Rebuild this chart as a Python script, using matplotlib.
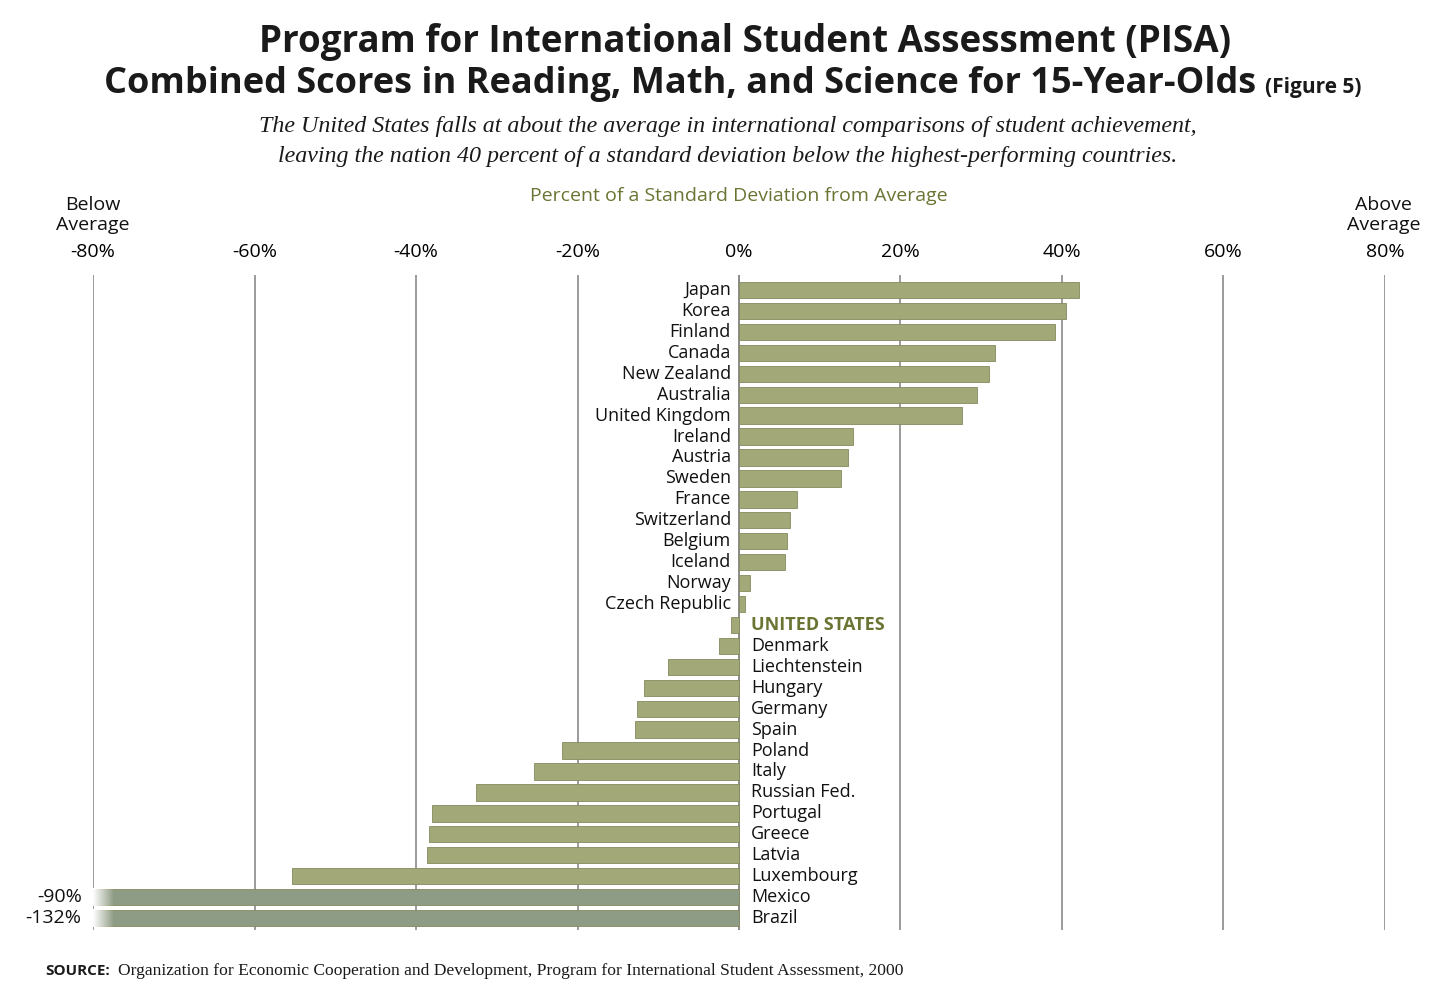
import matplotlib
matplotlib.use("Agg")
import matplotlib.pyplot as plt
import numpy as np

countries = ["Japan", "Korea", "Finland", "Canada", "New Zealand", "Australia",
             "United Kingdom", "Ireland", "Austria", "Sweden", "France",
             "Switzerland", "Belgium", "Iceland", "Norway", "Czech Republic",
             "UNITED STATES", "Denmark", "Liechtenstein", "Hungary", "Germany",
             "Spain", "Poland", "Italy", "Russian Fed.", "Portugal", "Greece",
             "Latvia", "Luxembourg", "Mexico", "Brazil"]
values = [42.1, 40.5, 39.1, 31.7, 31.0, 29.5, 27.6, 14.1, 13.5, 12.6, 7.2,
          6.3, 5.9, 5.7, 1.4, 0.7, -1.0, -2.5, -8.8, -11.8, -12.6, -12.9,
          -21.9, -25.4, -32.6, -38.0, -38.4, -38.6, -55.4, -90, -132]
ticks = [-80, -60, -40, -20, 0, 20, 40, 60, 80]
tick_labels = ["-80%", "-60%", "-40%", "-20%", "0%", "20%", "40%", "60%", "80%"]

bar_col = "#a3a878"
edge_col = "#858a5c"
off_col = "#8f9c85"
olive = "#6b7433"
xmin, xmax = -80, 80

fig = plt.figure(figsize=(14.56, 10.02), dpi=100)
ax = fig.add_axes([0.0639, 0.0719, 0.8873, 0.6537])

y = np.arange(len(countries))
vals = np.array(values, dtype=float)
drawn = np.maximum(vals, xmin)
cols = [off_col if v < xmin else bar_col for v in vals]
ax.barh(y, drawn, height=0.78, color=cols, edgecolor=edge_col, linewidth=0.6, zorder=3)

# fade the truncated bars into the left edge
fade = np.ones((1, 60, 4))
fade[0, :, 3] = np.linspace(1, 0, 60)
for i, v in enumerate(vals):
    if v < xmin:
        ax.imshow(fade, extent=(xmin, xmin + 2.6, i + 0.42, i - 0.42),
                  aspect="auto", zorder=4, interpolation="bilinear")
        ax.text(xmin - 1.4, i, f"{v:.0f}%", ha="right", va="center",
                fontsize=14, fontfamily="Open Sans", color="#111111")

for i, (name, v) in enumerate(zip(countries, vals)):
    if v >= 0:
        ax.text(-1.0, i, name, ha="right", va="center", fontsize=13,
                fontfamily="Open Sans", color="#111111", zorder=5)
    else:
        us = name == "UNITED STATES"
        ax.text(1.5, i, name, ha="left", va="center", fontsize=13,
                fontfamily="Open Sans", fontweight="bold" if us else "normal",
                color=olive if us else "#111111", zorder=5)

ax.set_xlim(xmin, xmax)
ax.set_ylim(len(countries) - 1 + 0.57, -0.72)
ax.set_xticks(ticks)
ax.set_xticklabels(tick_labels, fontsize=14, fontfamily="Open Sans")
ax.xaxis.tick_top()
ax.tick_params(axis="x", length=0, pad=10)
ax.set_yticks([])
ax.grid(axis="x", color="#8a8a8a", linewidth=1.2, zorder=0)
for s in ax.spines.values():
    s.set_visible(False)
ax.axvline(0, color="#8a8a8a", linewidth=1.2, zorder=2)

# titles
fig.text(0.512, 0.958, "Program for International Student Assessment (PISA)",
         ha="center", va="center", fontsize=26.5, fontweight="bold",
         fontfamily="Open Sans", color="#1a1a1a")
fig.text(0.467, 0.916, "Combined Scores in Reading, Math, and Science for 15-Year-Olds",
         ha="center", va="center", fontsize=26, fontweight="bold",
         fontfamily="Open Sans", color="#1a1a1a")
fig.text(0.869, 0.913, "(Figure 5)", ha="left", va="center", fontsize=15,
         fontweight="bold", fontfamily="Open Sans", color="#1a1a1a")
fig.text(0.5, 0.874, "The United States falls at about the average in international comparisons of student achievement,",
         ha="center", va="center", fontsize=17.3, style="italic",
         fontfamily="Liberation Serif", color="#1a1a1a")
fig.text(0.5, 0.844, "leaving the nation 40 percent of a standard deviation below the highest-performing countries.",
         ha="center", va="center", fontsize=17.3, style="italic",
         fontfamily="Liberation Serif", color="#1a1a1a")
fig.text(0.5075, 0.804, "Percent of a Standard Deviation from Average", ha="center",
         va="center", fontsize=14, fontfamily="Open Sans", color=olive)
fig.text(0.0639, 0.785, "Below\nAverage", ha="center", va="center", fontsize=14,
         fontfamily="Open Sans", linespacing=1.15, color="#111111")
fig.text(0.9505, 0.785, "Above\nAverage", ha="center", va="center", fontsize=14,
         fontfamily="Open Sans", linespacing=1.15, color="#111111")

fig.text(0.031, 0.031, "SOURCE:", ha="left", va="center", fontsize=11,
         fontweight="bold", fontfamily="Open Sans", color="#1a1a1a")
fig.text(0.081, 0.031, "Organization for Economic Cooperation and Development, Program for International Student Assessment, 2000",
         ha="left", va="center", fontsize=12.6, fontfamily="Liberation Serif", color="#1a1a1a")

fig.savefig("out.png", dpi=100, facecolor="white")
